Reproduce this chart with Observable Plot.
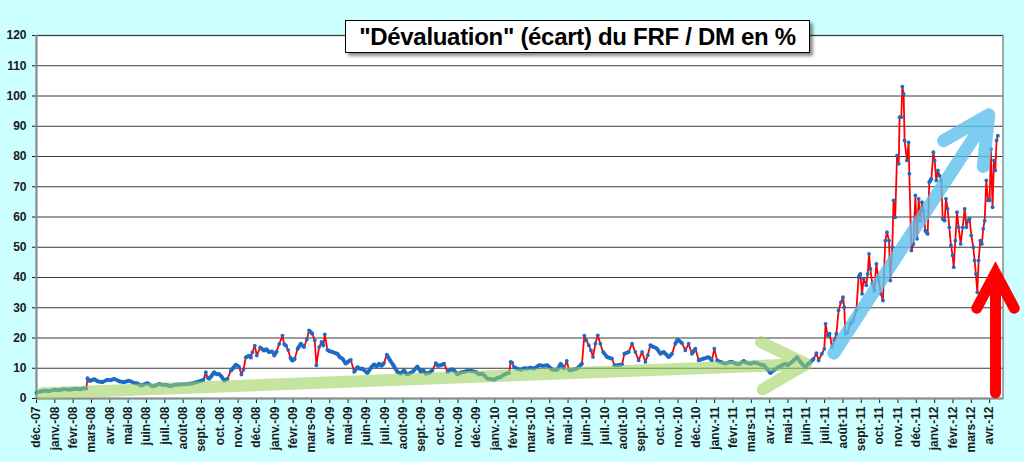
<!DOCTYPE html>
<html>
<head>
<meta charset="utf-8">
<script src="https://cdn.jsdelivr.net/npm/d3@7"></script>
<script src="https://cdn.jsdelivr.net/npm/@observablehq/plot@0.6"></script>
<style>
  html, body { margin: 0; padding: 0; background: #ccffff; }
  #wrap { position: relative; width: 1024px; height: 462px; overflow: hidden; background: #ccffff; }
  #title {
    position: absolute; left: 345px; top: 20px; width: 463px; height: 31px;
    background: #fff; border: 1px solid #000; box-shadow: 3px 3px 3px rgba(0,0,0,0.45);
    font: bold 24px "Liberation Sans", Arial, sans-serif; color: #000;
    text-align: center; line-height: 31px; white-space: nowrap; z-index: 2; letter-spacing: -0.3px;
  }
  #chart { position: absolute; left: 0; top: 0; }
</style>
</head>
<body>
<div id="wrap">
  <div id="chart"></div>
  <div id="title">"Dévaluation" (écart) du FRF / DM en %</div>
</div>
<script>
// x = months since 1 Dec 2007 (0 = déc.-07), y = écart in %
const monthAbbr = ["janv.","févr.","mars","avr.","mai","juin","juil.","août","sept.","oct.","nov.","déc."];
const xTicks = d3.range(0, 53);
const yTicks = d3.range(0, 121, 10);

const s2008 = [
[0,1.9],[0.2,2.3],[0.45,2.6],[0.7,2.4],[0.96,2.9],[1.2,2.7],[1.5,3.1],[1.8,2.9],[2.1,3.2],[2.4,3.0],[2.6,3.4],[2.72,3.3],
[2.78,6.7],[2.88,5.8],[3.0,6.0],[3.15,6.4],[3.33,5.7],[3.6,5.4],[3.87,6.2],[4.05,6.0],[4.24,6.5],[4.51,5.7],[4.78,5.4],
[5.05,5.9],[5.33,5.1],[5.5,5.0],[5.69,4.3],[5.85,4.6],[6.05,5.1],[6.33,4.0],[6.5,4.3],[6.69,4.8],[6.9,4.5],[7.05,4.6],
[7.33,4.0],[7.5,4.5],[7.69,4.6],[7.95,4.7],[8.24,4.8],[8.5,5.0],[8.78,5.5],[9.0,5.9],[9.11,6.2],[9.24,8.7],[9.32,7.0],
[9.42,6.5],[9.55,7.5],[9.69,8.7],[9.82,8.0],[9.96,8.1],[10.1,7.2],[10.24,5.9],[10.42,6.5],[10.6,9.2],[10.75,10.2],
[10.87,11.2],[11.05,10.5],[11.18,7.9],[11.29,9.5],[11.42,13.6],[11.6,14.2],[11.7,13.5],[11.78,15.3],[11.91,17.5],[12.02,14.2]
];
const s2009 = [
[12.2,16.9],[12.42,15.8],[12.55,16.3],[12.69,15.3],[12.85,15.6],[12.96,14.2],[13.1,15.5],[13.24,18.0],[13.42,20.8],
[13.51,18.0],[13.62,17.4],[13.73,16.0],[13.85,13.5],[13.96,12.5],[14.09,13.1],[14.24,16.4],[14.42,18.1],[14.6,17.0],
[14.75,19.5],[14.87,22.5],[15.05,21.4],[15.18,19.2],[15.27,11.0],[15.42,17.0],[15.55,18.7],[15.65,17.5],[15.73,21.2],
[15.87,16.1],[16.0,15.6],[16.15,15.4],[16.3,15.0],[16.42,14.8],[16.55,13.6],[16.69,13.2],[16.87,11.5],[17.0,12.2],
[17.15,12.8],[17.33,8.8],[17.51,10.4],[17.65,9.8],[17.78,9.9],[18.05,8.4],[18.25,10.2],[18.42,11.3],[18.55,10.6],
[18.69,11.5],[18.82,10.8],[18.96,11.7],[19.11,14.5],[19.29,12.6],[19.47,11.0],[19.69,8.8],[19.87,8.2],[20.05,9.3],
[20.2,8.0],[20.33,8.2],[20.55,9.0],[20.78,10.6],[20.96,8.8],[21.1,9.4],[21.24,8.2],[21.45,8.6],[21.6,9.3],[21.78,11.7],
[21.9,10.8],[22.05,11.0],[22.24,11.5],[22.42,8.8],[22.6,9.6],[22.75,9.5],[22.96,8.0],[23.15,8.6],[23.33,8.8],[23.5,9.2],
[23.69,9.1],[23.96,8.8]
];
const s2010 = [
[24.15,8.0],[24.33,8.2],[24.6,6.6],[24.8,6.4],[24.96,6.2],[25.15,6.8],[25.33,7.1],[25.6,8.2],[25.78,8.4],[25.87,12.1],
[25.95,11.8],[26.05,10.4],[26.25,9.8],[26.42,9.5],[26.6,10.0],[26.78,9.9],[26.95,10.2],[27.15,9.9],[27.42,11.0],
[27.65,10.8],[27.87,11.0],[28.15,9.5],[28.42,9.5],[28.6,11.5],[28.78,9.9],[28.93,12.4],[29.05,9.5],[29.13,9.3],
[29.49,9.9],[29.76,11.5],[29.89,20.8],[30.0,19.2],[30.13,17.6],[30.25,15.9],[30.36,13.7],[30.49,18.1],[30.62,20.9],
[30.76,18.1],[30.91,15.4],[31.13,13.7],[31.4,13.2],[31.53,11.0],[31.76,11.0],[31.95,11.3],[32.07,14.8],[32.31,15.4],
[32.49,18.1],[32.67,15.4],[32.85,12.6],[33.04,15.4],[33.22,12.1],[33.35,14.3],[33.49,17.6],[33.67,17.0],[33.85,16.5],
[34.04,14.8],[34.22,15.4],[34.49,13.7],[34.67,14.8],[34.85,18.1],[34.98,19.5],[35.22,18.3],[35.4,15.9],[35.58,18.1],
[35.76,14.8],[35.95,16.5]
];
const s2011 = [
[36.13,12.6],[36.4,13.2],[36.67,13.7],[36.85,12.6],[36.98,16.5],[37.13,12.6],[37.31,12.1],[37.58,11.5],[37.8,12.0],
[37.95,12.1],[38.15,11.5],[38.31,11.3],[38.58,12.4],[38.75,11.8],[38.95,11.5],[39.15,11.9],[39.31,11.7],[39.5,11.2],
[39.67,11.0],[39.85,9.8],[40.04,8.4],[40.22,9.3],[40.49,10.4],[40.65,10.9],[40.85,11.5],[41.0,11.0],[41.13,11.7],
[41.3,12.5],[41.49,13.7],[41.67,12.1],[41.8,11.2],[41.95,10.4],[42.1,11.5],[42.22,12.0],[42.4,13.1],[42.55,15.0],
[42.67,12.6],[42.85,14.8],[42.98,16.4],[43.05,24.7],[43.16,20.8],[43.27,21.4],[43.4,17.0],[43.53,19.2],[43.64,21.4],
[43.76,29.1],[43.89,31.8],[44.0,33.5],[44.07,30.2],[44.13,21.4],[44.25,21.9],[44.4,24.7],[44.55,25.8],[44.73,29.1],
[44.85,40.1],[44.95,41.2],[45.04,34.6],[45.13,39.6],[45.27,37.4],[45.35,41.2],[45.42,47.8],[45.49,42.9],[45.6,37.9],
[45.71,35.7],[45.82,44.5],[45.95,39.0],[46.07,34.6],[46.18,32.4],[46.31,52.2],[46.4,55.0],[46.51,52.2],[46.58,39.0],
[46.69,50.0],[46.76,65.5],[46.85,59.9],[46.95,80.3],[47.04,77.6],[47.09,93.0],[47.18,93.0],[47.24,103.1],[47.31,100.7],
[47.36,85.3],[47.49,78.7],[47.58,84.7],[47.62,74.3],[47.73,48.9],[47.84,51.1],[47.95,67.1]
];
const s2012 = [
[48.04,52.8],[48.13,66.0],[48.22,58.8],[48.31,64.9],[48.4,62.1],[48.49,55.5],[48.62,54.4],[48.71,71.5],[48.82,72.6],
[48.93,81.4],[49.0,78.7],[49.09,72.1],[49.18,75.4],[49.27,73.7],[49.36,72.1],[49.44,59.4],[49.55,58.8],[49.62,66.0],
[49.71,62.7],[49.8,56.6],[49.89,50.6],[49.98,47.3],[50.04,43.4],[50.13,52.2],[50.22,61.6],[50.31,56.6],[50.42,51.1],
[50.53,56.6],[50.64,62.7],[50.73,56.6],[50.82,58.8],[50.91,59.4],[51.0,53.9],[51.11,50.0],[51.18,45.6],[51.25,41.2],
[51.33,35.1],[51.4,45.6],[51.49,52.2],[51.58,51.1],[51.65,56.1],[51.73,58.8],[51.82,72.1],[51.91,65.5],[52.0,65.5],
[52.07,82.5],[52.16,63.2],[52.24,78.7],[52.31,75.4],[52.38,85.3],[52.45,86.9]
];

// annotation arrows (start -> tip), in data units
const greenArrow = [{x1: 0.3, y1: 1.7, x2: 42.0, y2: 11.4}];
const blueArrow  = [{x1: 43.5, y1: 15.0, x2: 51.95, y2: 93.8}];
const redArrow   = [{x1: 52.32, y1: 1.9, x2: 52.32, y2: 41.5}];

const pts = [...s2008, ...s2009, ...s2010, ...s2011, ...s2012].map(([t, v]) => ({t, v}));
// gentle segments look like a dense ribbon of blue markers; steep ones reveal the red line
const pxX = 18.33, pxY = 3.025;
const flat = d3.pairs(pts)
  .filter(([a, b]) => Math.abs(b.v - a.v) * pxY <= 2 * (b.t - a.t) * pxX)
  .map(([a, b]) => ({x1: a.t, y1: a.v, x2: b.t, y2: b.v}));

const fmt = t => {
  const m = (11 + t) % 12;
  const y = 7 + Math.floor((11 + t) / 12);
  return monthAbbr[m] + "-" + String(y).padStart(2, "0");
};

const chart = Plot.plot({
  width: 1024,
  height: 462,
  marginLeft: 36,
  marginRight: 21.5,
  marginTop: 35,
  marginBottom: 64,
  style: {
    background: "transparent",
    fontFamily: "'Liberation Sans', Arial, sans-serif",
    fontSize: "12px",
    fontWeight: "bold",
    color: "#1a1a1a",
    overflow: "visible"
  },
  x: {domain: [0, 52.73], ticks: xTicks, tickFormat: fmt, tickRotate: -90, tickSize: 5, tickPadding: 3, label: null},
  y: {domain: [0, 120], ticks: yTicks, tickSize: 4, tickPadding: 6, label: null},
  marks: [
    Plot.frame({fill: "#ffffff", stroke: "#8c8c8c", strokeWidth: 1.5}),
    Plot.ruleY(yTicks.filter(d => d > 0), {stroke: "#3a3a3a", strokeWidth: 1}),
    Plot.ruleY([0], {stroke: "#8c8c8c", strokeWidth: 2}),
    Plot.ruleX([0], {stroke: "#8c8c8c", strokeWidth: 2}),
    Plot.line(pts, {x: "t", y: "v", stroke: "#ff0000", strokeWidth: 1.8}),
    Plot.link(flat, {x1: "x1", y1: "y1", x2: "x2", y2: "y2", stroke: "#1e6bc4", strokeWidth: 3.8}),
    Plot.dot(pts, {x: "t", y: "v", r: 1.9, fill: "#1e6bc4", stroke: "none"}),
    Plot.arrow(greenArrow, {x1: "x1", y1: "y1", x2: "x2", y2: "y2", stroke: "#9dd261", strokeOpacity: 0.6,
      strokeWidth: 12, headLength: 6.3, headAngle: 56, strokeLinecap: "round", strokeLinejoin: "round"}),
    Plot.arrow(blueArrow, {x1: "x1", y1: "y1", x2: "x2", y2: "y2", stroke: "#5cc0ec", strokeOpacity: 0.8,
      strokeWidth: 13, headLength: 6, headAngle: 54, strokeLinecap: "round", strokeLinejoin: "round"}),
    Plot.arrow(redArrow, {x1: "x1", y1: "y1", x2: "x2", y2: "y2", stroke: "#ff0000",
      strokeWidth: 11, headLength: 5.8, headAngle: 56, strokeLinecap: "round", strokeLinejoin: "miter", strokeMiterlimit: 10})
  ]
});
document.getElementById("chart").appendChild(chart);
</script>
</body>
</html>
